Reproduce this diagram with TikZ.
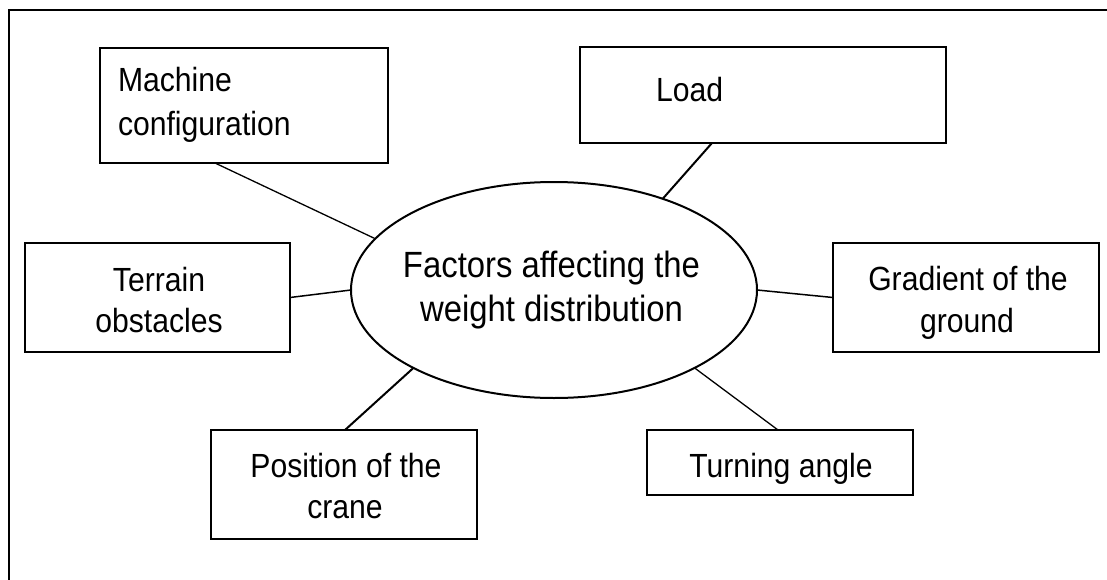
\documentclass[tikz,border=0pt]{standalone}
\usepackage{fontspec}
\setmainfont{Liberation Sans}[FakeStretch=0.9]
\usetikzlibrary{shapes.geometric}

\tikzset{
  box/.style={draw, rectangle, line width=2pt, inner sep=0pt, outer sep=0pt},
  hub/.style={draw, ellipse, line width=2pt, inner sep=0pt, outer sep=0pt,
              minimum width=406pt, minimum height=216pt},
  hubtext/.style={inner sep=0pt, outer sep=0pt, align=center,
              font=\fontsize{36.5}{44}\selectfont},
  lbl/.style={inner sep=0pt, outer sep=0pt, font=\fontsize{33.5}{42}\selectfont},
  conn/.style={draw, line width=1.5pt},
  frame/.style={draw, line width=2pt}
}

\begin{document}
\begin{tikzpicture}[x=1pt, y=-1pt]
  \useasboundingbox (0,0) rectangle (1107,580);

  % page frame (top and left edges)
  \coordinate (fr-tr) at (1107,10);
  \coordinate (fr-tl) at (9,10);
  \coordinate (fr-bl) at (9,580);
  \draw[frame] (fr-tr) -- (fr-tl) -- (fr-bl);

  % central ellipse and its caption
  \node[hub] (ell) at (554,290) {};
  \node[hubtext] (ell-t) at (551.5,290.5) {Factors affecting the\\weight distribution};

  % factor boxes
  \node[box, minimum width=288pt, minimum height=115pt] (mach) at (244,105.5) {};
  \node[box, minimum width=366pt, minimum height=96pt]  (load) at (763,95) {};
  \node[box, minimum width=265pt, minimum height=109pt] (terr) at (157.5,297.5) {};
  \node[box, minimum width=266pt, minimum height=109pt] (grad) at (966,297.5) {};
  \node[box, minimum width=266pt, minimum height=109pt] (pos)  at (344,484.5) {};
  \node[box, minimum width=266pt, minimum height=65pt]  (turn) at (780,462.5) {};

  % box texts
  \node[lbl, anchor=base west] (mach-t1) at (118,92)  {Machine};
  \node[lbl, anchor=base west] (mach-t2) at (118,136) {configuration};
  \node[lbl, anchor=base west] (load-t)  at (656,102) {Load};
  \node[lbl, anchor=base] (terr-t1) at (159,291) {Terrain};
  \node[lbl, anchor=base] (terr-t2) at (159,332) {obstacles};
  \node[lbl, anchor=base] (grad-t1) at (968,290) {Gradient of the};
  \node[lbl, anchor=base] (grad-t2) at (967,332) {ground};
  \node[lbl, anchor=base] (pos-t1)  at (346,477) {Position of the};
  \node[lbl, anchor=base] (pos-t2)  at (345,518) {crane};
  \node[lbl, anchor=base] (turn-t)  at (781,477) {Turning angle};

  % connectors
  \draw[conn, line width=1.3pt] ([xshift=115pt]mach.south west) -- (ell.164.6);
  \draw[conn, line width=2pt]   ([xshift=132pt]load.south west) -- (ell.40.8);
  \draw[conn] (terr.east) -- (ell.west);
  \draw[conn] (ell.east) -- (grad.west);
  \draw[conn, line width=2pt]   ([xshift=134pt]pos.north west) -- (ell.209.3);
  \draw[conn, line width=1.3pt] ([xshift=131pt]turn.north west) -- (ell.331.2);
\end{tikzpicture}
\end{document}
